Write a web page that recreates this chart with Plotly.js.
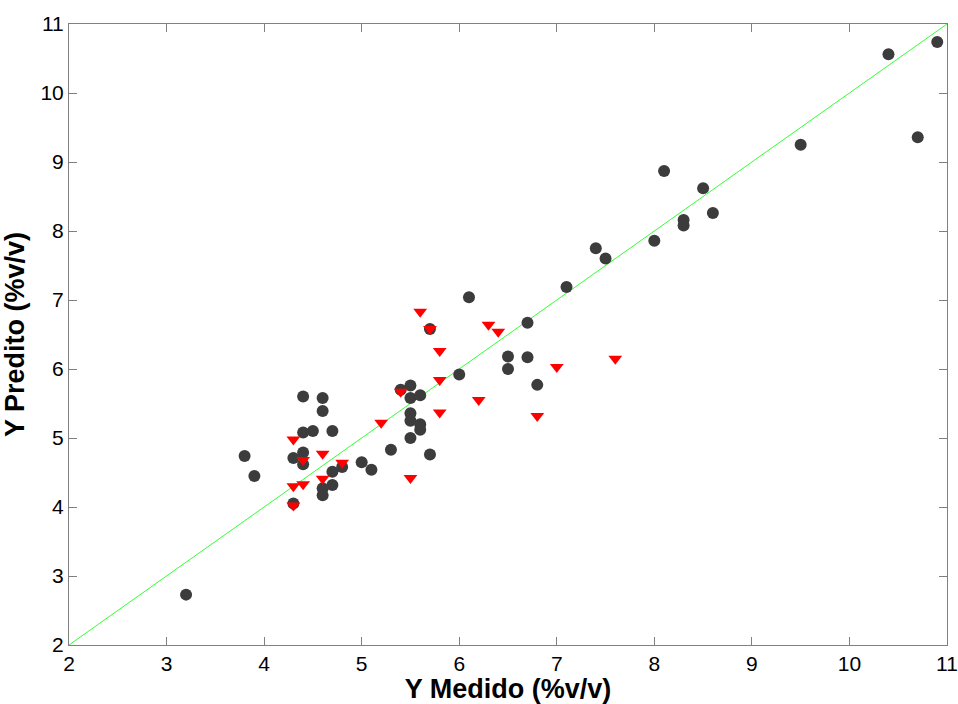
<!DOCTYPE html>
<html>
<head>
<meta charset="utf-8">
<script src="https://cdn.plot.ly/plotly-3.0.1.min.js"></script>
<style>html,body{margin:0;padding:0;background:#fff;}#chart{width:958px;height:704px;}</style>
</head>
<body>
<div id="chart"></div>
<script>
// Calibration set (black circles)
const calX = [3.2, 3.8, 3.9, 4.4, 4.6, 4.6, 4.4, 4.5, 4.7, 4.3, 4.4, 4.4, 4.7, 4.8, 4.6, 4.7, 4.6, 4.3,
  5.0, 5.1, 5.3, 5.5, 5.5, 5.6, 5.5, 5.5, 5.6, 5.6, 5.5, 5.7, 5.7, 5.4, 6.0, 6.1,
  7.1, 6.7, 6.5, 6.7, 6.5, 6.8, 7.4, 7.5, 8.0, 8.1, 8.5, 8.3, 8.3, 8.6, 9.5, 10.7, 10.4, 10.9];
const calY = [2.73, 4.74, 4.45, 5.60, 5.58, 5.39, 5.08, 5.10, 5.10, 4.71, 4.79, 4.62, 4.51, 4.58, 4.27, 4.32, 4.17, 4.05,
  4.65, 4.54, 4.83, 5.76, 5.58, 5.62, 5.36, 5.25, 5.20, 5.12, 5.00, 4.76, 6.58, 5.70, 5.92, 7.04,
  7.19, 6.67, 6.18, 6.17, 6.00, 5.77, 7.75, 7.60, 7.86, 8.87, 8.62, 8.16, 8.08, 8.26, 9.25, 9.36, 10.56, 10.74];
// Validation set (red triangles)
const valX = [5.6, 5.7, 5.8, 5.8, 5.4, 5.8, 6.2, 5.2, 4.3, 4.4, 4.6, 4.8, 4.3, 4.4, 4.6, 4.3, 5.5,
  6.3, 6.4, 7.0, 7.6, 6.8];
const valY = [6.83, 6.58, 6.26, 5.84, 5.67, 5.37, 5.55, 5.22, 4.98, 4.68, 4.77, 4.64, 4.30, 4.33, 4.41, 4.02, 4.42,
  6.64, 6.54, 6.03, 6.15, 5.32];
// Identity line
const lineX = [2, 11];
const lineY = [2, 11];
const tickVals = [2, 3, 4, 5, 6, 7, 8, 9, 10, 11];

const traces = [
  {x: lineX, y: lineY, type: 'scatter', mode: 'lines', line: {color: '#33ff33', width: 1}, hoverinfo: 'skip'},
  {x: calX, y: calY, type: 'scatter', mode: 'markers',
   marker: {symbol: 'circle', size: 12, color: '#3c3c3c', line: {width: 0}}},
  {x: valX, y: valY, type: 'scatter', mode: 'markers',
   marker: {symbol: 'triangle-down', size: 12, color: '#ff0000', line: {width: 0}}}
];

const axisCommon = {
  range: [2, 11], tickvals: tickVals, ticktext: tickVals.map(String),
  showgrid: false, zeroline: false, showline: true, linecolor: '#808080', linewidth: 1,
  mirror: 'ticks', ticks: 'inside', ticklen: 8, tickcolor: '#808080', tickwidth: 1,
  tickfont: {family: 'Liberation Sans, Arial, sans-serif', size: 21, color: '#000'}
};

const layout = {
  width: 958, height: 704,
  margin: {l: 69, r: 11, t: 24, b: 59},
  paper_bgcolor: '#fff', plot_bgcolor: '#fff',
  showlegend: false,
  xaxis: Object.assign({}, axisCommon, {
    title: {text: 'Y Medido (%v/v)', standoff: 2,
      font: {family: 'Liberation Sans, Arial, sans-serif', size: 27, color: '#000', weight: 'bold'}}
  }),
  yaxis: Object.assign({}, axisCommon, {
    title: {text: 'Y Predito (%v/v)', standoff: 8,
      font: {family: 'Liberation Sans, Arial, sans-serif', size: 27, color: '#000', weight: 'bold'}}
  })
};

Plotly.newPlot('chart', traces, layout, {displayModeBar: false, staticPlot: true});
</script>
</body>
</html>
